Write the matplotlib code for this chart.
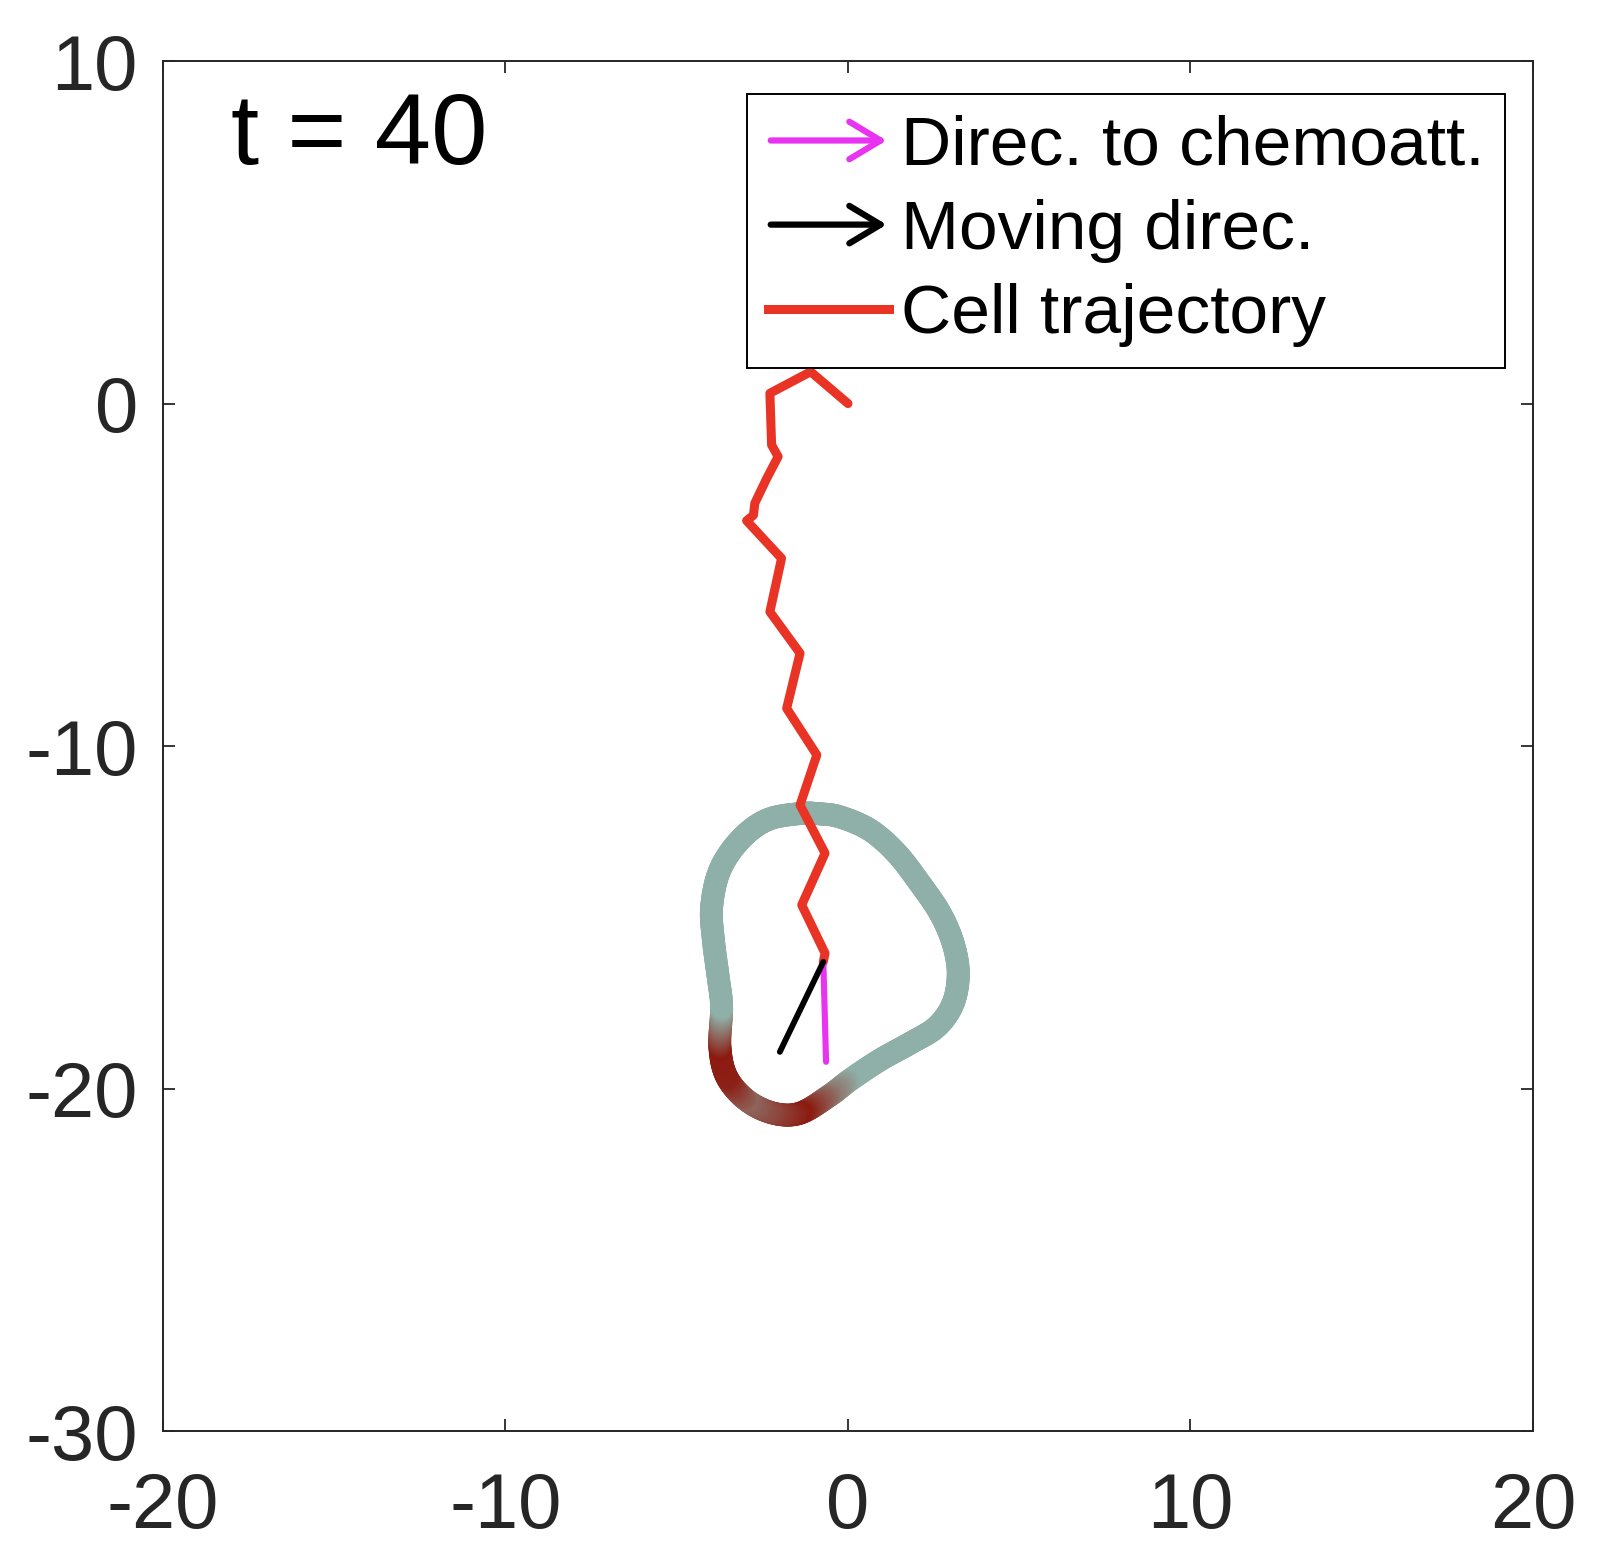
import numpy as np
import matplotlib
matplotlib.use('Agg')
import matplotlib.pyplot as plt
from matplotlib.collections import LineCollection
from matplotlib.colors import LinearSegmentedColormap
from matplotlib.lines import Line2D
from matplotlib.patches import FancyArrowPatch
from matplotlib.legend_handler import HandlerBase

plt.rcParams['font.family'] = ['Liberation Sans', 'DejaVu Sans']
plt.rcParams['axes.unicode_minus'] = False

# cell trajectory (x, y), from start (0,0) to current centre
traj_x = [0.0, -1.09, -2.28, -2.23, -2.04, -2.37, -2.72, -2.76, -2.96, -1.94,
          -2.28, -1.40, -1.79, -0.91, -1.40, -0.67, -1.35, -0.67, -0.72]
traj_y = [0.0, 0.93, 0.30, -1.21, -1.55, -2.18, -2.91, -3.26, -3.42, -4.52,
          -6.08, -7.29, -8.90, -10.26, -11.72, -13.13, -14.64, -16.05, -16.30]

# cell membrane contour and signal level at each vertex (0 = low, 1 = high)
cell_x = [-1.40, -0.82, -0.23, 0.64, 1.42, 2.10, 2.69, 3.07, 3.22, 3.07, 2.59,
          1.81, 0.93, 0.06, -0.53, -1.40, -2.18, -2.96, -3.54, -3.74, -3.69,
          -3.79, -3.93, -3.98, -3.74, -3.15, -2.37]
cell_y = [-11.97, -11.98, -12.07, -12.45, -13.13, -14.01, -14.88, -15.76, -16.64,
          -17.51, -18.20, -18.68, -19.17, -19.75, -20.20, -20.72, -20.72, -20.34,
          -19.66, -18.78, -17.61, -16.74, -15.66, -14.69, -13.62, -12.74, -12.16]
cell_sig = [0, 0, 0, 0, 0, 0, 0, 0, 0, 0, 0, 0, 0, 0, 0.35, 1.0, 0.75, 0.5,
            0.95, 1.0, 0, 0, 0, 0, 0, 0, 0]

# direction vectors starting at the cell centre
chemo_end = (-0.64, -19.22)
moving_end = (-1.99, -18.93)

t_label = 't = 40'

fig = plt.figure(figsize=(15.98, 15.66), dpi=100)
ax = fig.add_axes([0.1020, 0.0862, 0.8573, 0.8748])

# membrane: smooth closed curve through the vertices, colour interpolated
cmap = LinearSegmentedColormap.from_list('cell', ['#8FB0A8', '#8C1A10'])
P = np.column_stack([cell_x, cell_y])
N = len(P)
segs = []
cols = []
n = 16
for i in range(N):
    p0, p1, p2, p3 = P[i - 1], P[i], P[(i + 1) % N], P[(i + 2) % N]
    s1, s2 = cell_sig[i], cell_sig[(i + 1) % N]
    ts = np.linspace(0, 1, n + 1)
    pts = [0.5 * (2 * p1 + (-p0 + p2) * t + (2 * p0 - 5 * p1 + 4 * p2 - p3) * t**2
                  + (-p0 + 3 * p1 - 3 * p2 + p3) * t**3) for t in ts]
    for k in range(n):
        segs.append([pts[k], pts[k + 1]])
        cols.append(cmap(s1 + (s2 - s1) * (ts[k] + ts[k + 1]) / 2))
lc = LineCollection(segs, colors=cols, linewidths=16.5, capstyle='round',
                    joinstyle='round', zorder=2)
ax.add_collection(lc)

red = '#E83325'
mag = '#E834F0'
ax.plot(traj_x, traj_y, color=red, lw=6.5, solid_joinstyle='round',
        solid_capstyle='round', zorder=3)
ax.plot([traj_x[-1], chemo_end[0]], [traj_y[-1], chemo_end[1]], color=mag,
        lw=4.4, solid_capstyle='round', zorder=4)
ax.plot([traj_x[-1], moving_end[0]], [traj_y[-1], moving_end[1]], color='black',
        lw=4.2, solid_capstyle='round', zorder=4)

ax.text(-18.0, 7.75, t_label, fontsize=73, va='center', ha='left', color='black')

ax.set_xlim(-20, 20)
ax.set_ylim(-30, 10)
ax.set_xticks([-20, -10, 0, 10, 20])
ax.set_yticks([-30, -20, -10, 0, 10])
ax.tick_params(direction='in', length=8.6, width=1.3, labelsize=56,
               colors='#262626', top=True, right=True)
ax.tick_params(axis='x', pad=29)
ax.tick_params(axis='y', pad=18)
for s in ax.spines.values():
    s.set_linewidth(1.4)
    s.set_color('#262626')


class ArrowHandler(HandlerBase):
    def create_artists(self, legend, orig_handle, xdescent, ydescent, width,
                       height, fontsize, trans):
        y = height / 2 - ydescent
        p = FancyArrowPatch((-xdescent, y), (width - xdescent, y),
                            arrowstyle='->,head_length=0.5,head_width=0.3',
                            mutation_scale=fontsize * 0.9,
                            color=orig_handle.get_color(),
                            lw=orig_handle.get_linewidth(),
                            transform=trans)
        return [p]


h_chemo = Line2D([], [], color=mag, lw=4.5)
h_move = Line2D([], [], color='black', lw=4.5)
h_traj = Line2D([], [], color=red, lw=6.5)
leg = ax.legend([h_chemo, h_move, h_traj],
                ['Direc. to chemoatt.', 'Moving direc.', 'Cell trajectory'],
                handler_map={h_chemo: ArrowHandler(), h_move: ArrowHandler()},
                loc='upper right', bbox_to_anchor=(0.9796, 0.976),
                borderaxespad=0, fontsize=50, handlelength=1.75,
                handletextpad=0.16, labelspacing=0.29, borderpad=0.3,
                fancybox=False, framealpha=1, edgecolor='black')
leg.get_frame().set_linewidth(1.4)

fig.savefig('out.png', dpi=100)
